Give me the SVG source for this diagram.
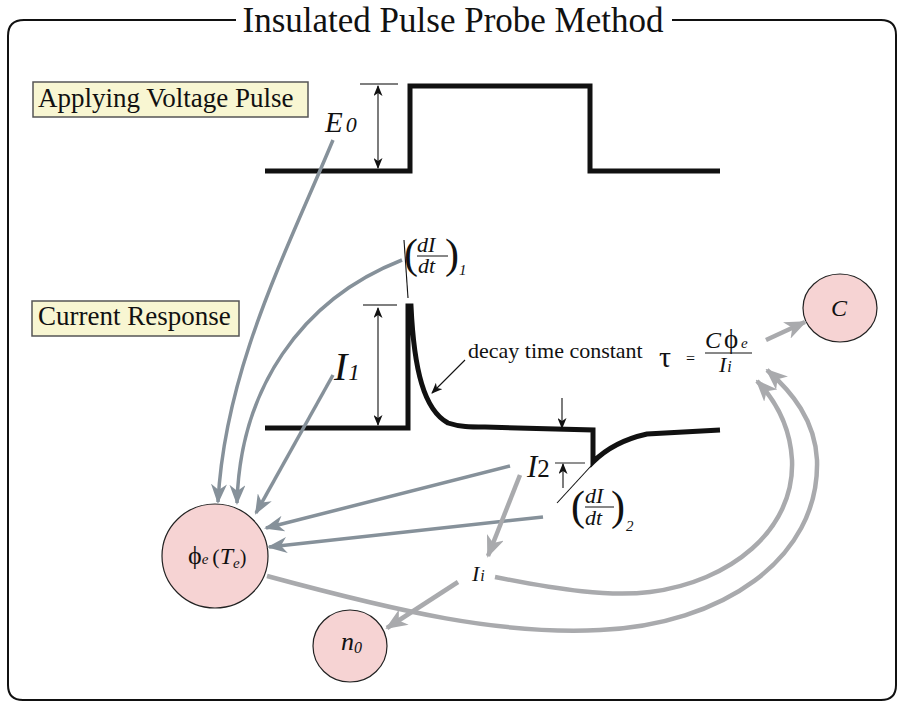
<svg xmlns="http://www.w3.org/2000/svg" width="904" height="707" viewBox="0 0 904 707">
<style>
text{font-family:"Liberation Serif","Times New Roman",serif;fill:#111}
.it{font-style:italic}
.box{fill:#f8f6d2;stroke:#555;stroke-width:1.5}
.node{fill:#f6d3d3;stroke:#222;stroke-width:1.2}
.sig{fill:none;stroke:#111;stroke-width:5;stroke-linejoin:miter}
.thin{fill:none;stroke:#111;stroke-width:1.1}
.tick{fill:none;stroke:#555;stroke-width:1.3}
.dk{fill:none;stroke:#86919a;stroke-width:3.5;marker-end:url(#ad)}
.lt{fill:none;stroke:#a9aaad;stroke-width:4.5;marker-end:url(#al)}
</style>
<defs>
<marker id="ad" markerUnits="userSpaceOnUse" markerWidth="20" markerHeight="16" refX="18" refY="8" orient="auto" viewBox="0 0 20 16"><path d="M0,0 L20,8 L0,16 L6,8 z" fill="#86919a"/></marker>
<marker id="al" markerUnits="userSpaceOnUse" markerWidth="22" markerHeight="18" refX="20" refY="9" orient="auto" viewBox="0 0 22 18"><path d="M0,0 L22,9 L0,18 L6,9 z" fill="#a9aaad"/></marker>
<marker id="ab" markerUnits="userSpaceOnUse" markerWidth="11" markerHeight="9" refX="10" refY="4.5" orient="auto" viewBox="0 0 11 9"><path d="M0,0 L11,4.5 L0,9 L3,4.5 z" fill="#111"/></marker>
<marker id="abs" markerUnits="userSpaceOnUse" markerWidth="11" markerHeight="9" refX="1" refY="4.5" orient="auto" viewBox="0 0 11 9"><path d="M11,0 L0,4.5 L11,9 L8,4.5 z" fill="#111"/></marker>
</defs>

<g id="frame">
<path d="M236,20 L24,20 Q8,20 8,36 L8,685 Q8,700 23,700 L881,700 Q896,700 896,685 L896,35 Q896,20 881,20 L672,20" fill="none" stroke="#111" stroke-width="2"/>
<text x="453" y="32" font-size="35" text-anchor="middle">Insulated Pulse Probe Method</text>
</g>

<g id="label-voltage">
<rect class="box" x="33" y="82" width="275" height="35"/>
<text x="38" y="107" font-size="27">Applying Voltage Pulse</text>
</g>
<g id="label-current">
<rect class="box" x="32" y="301" width="207" height="35"/>
<text x="38" y="325" font-size="27">Current Response</text>
</g>

<g id="voltage-pulse">
<path class="sig" d="M265,171 L410,171 L410,86 L590,86 L590,171 L720,171"/>
<line class="tick" x1="360" y1="84" x2="398" y2="84"/>
<line class="thin" x1="378" y1="86" x2="378" y2="168" marker-start="url(#abs)" marker-end="url(#ab)"/>
<text x="325" y="132" font-size="29" class="it">E<tspan font-size="22" dx="3">0</tspan></text>
</g>

<g id="current-response">
<path class="sig" d="M265,428 L408,428 L408,306 L411,306 C 414,370 424,410 448,423 C 460,427 470,427 485,427 L593,430 L593,462 C 605,450 620,440 647,434 L720,430"/>
<line class="tick" x1="363" y1="305" x2="397" y2="305"/>
<line class="thin" x1="378" y1="308" x2="378" y2="425" marker-start="url(#abs)" marker-end="url(#ab)"/>
<text x="334" y="380" font-size="40" class="it">I<tspan font-size="23" dx="1">1</tspan></text>
<line class="thin" x1="404" y1="240" x2="408" y2="298"/>
<text x="404" y="268" font-size="42">(</text>
<text x="417" y="252" font-size="22" class="it">dI</text>
<line x1="417" y1="256" x2="448" y2="256" stroke="#111" stroke-width="1"/>
<text x="418" y="273" font-size="22" class="it">dt</text>
<text x="445" y="268" font-size="42">)</text>
<text x="459" y="275" font-size="15" class="it">1</text>
<text x="468" y="358" font-size="22">decay time constant</text>
<line class="thin" x1="465" y1="360" x2="432" y2="393" marker-end="url(#ab)"/>
<line class="thin" x1="562" y1="398" x2="562" y2="428" marker-end="url(#ab)"/>
<line class="tick" x1="555" y1="463" x2="585" y2="463"/>
<line class="thin" x1="563" y1="488" x2="563" y2="464" marker-end="url(#ab)"/>
<text x="527" y="477" font-size="31" class="it">I<tspan font-size="25" font-style="normal">2</tspan></text>
<line class="thin" x1="557" y1="503" x2="591" y2="466"/>
<text x="571" y="520" font-size="42">(</text>
<text x="585" y="503" font-size="22" class="it">dI</text>
<line x1="585" y1="507" x2="614" y2="507" stroke="#111" stroke-width="1"/>
<text x="585" y="525" font-size="22" class="it">dt</text>
<text x="611" y="520" font-size="42">)</text>
<text x="626" y="531" font-size="15" class="it">2</text>
</g>

<g id="formula">
<text x="659" y="367" font-size="30">τ</text>
<text x="686" y="364" font-size="16">=</text>
<text x="705" y="348" font-size="24" class="it">C</text>
<text x="724" y="348" font-size="27">ϕ</text>
<text x="741" y="348" font-size="15" class="it">e</text>
<line x1="705" y1="353" x2="752" y2="353" stroke="#111" stroke-width="1"/>
<text x="719" y="372" font-size="22" class="it">I<tspan font-size="16" dx="1">i</tspan></text>
</g>

<g id="node-C">
<ellipse class="node" cx="840" cy="308" rx="37" ry="34"/>
<text x="839" y="316" font-size="24" class="it" text-anchor="middle">C</text>
</g>
<g id="node-phi">
<ellipse class="node" cx="215" cy="556" rx="53" ry="52"/>
<text x="188" y="564" font-size="26">ϕ<tspan font-size="15" class="it">e</tspan><tspan font-size="22" dx="4">(</tspan><tspan font-size="24" class="it">T</tspan><tspan font-size="15" class="it" dy="4">e</tspan><tspan font-size="20" dy="-4">)</tspan></text>
</g>
<g id="node-n0">
<ellipse class="node" cx="350" cy="646" rx="37" ry="36"/>
<text x="341" y="650" font-size="26" class="it">n<tspan font-size="16" dy="3">0</tspan></text>
</g>
<g id="node-Ii">
<text x="472" y="581" font-size="22" class="it">I<tspan font-size="16" dx="1">i</tspan></text>
</g>

<g id="connectors">
<path class="dk" d="M333,140 C 285,255 225,370 218,502"/>
<path class="dk" d="M402,260 C 300,300 240,390 237,503"/>
<path class="dk" d="M333,375 L256,513"/>
<path class="dk" d="M510,466 L266,528"/>
<path class="dk" d="M543,517 L269,547"/>
<path class="lt" d="M520,475 L488,556"/>
<path class="lt" d="M458,582 L387,628"/>
<path class="lt" d="M766,340 L805,322"/>
<path class="lt" d="M495,577 C 560,590 610,597 650,592 C 730,582 795,530 792,460 C 790,425 775,400 757,381"/>
<path class="lt" d="M267,576 C 400,612 500,635 600,630 C 720,625 820,560 817,460 C 815,420 792,392 767,370"/>
</g>
</svg>
